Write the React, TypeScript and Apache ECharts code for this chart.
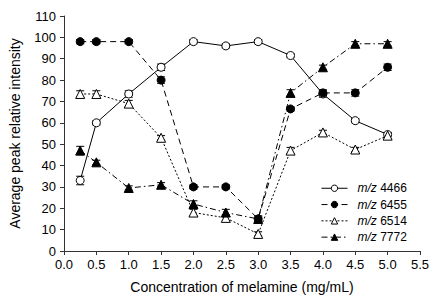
import React, { useEffect, useRef } from "react";
import * as echarts from "echarts";

const concentrations = [0.25, 0.5, 1.0, 1.5, 2.0, 2.5, 3.0, 3.5, 4.0, 4.5, 5.0];
const xTicks = ["0.0", "0.5", "1.0", "1.5", "2.0", "2.5", "3.0", "3.5", "4.0", "4.5", "5.0", "5.5"];

const mz4466 = [33, 60, 73.5, 86, 98, 96, 98, 91.5, 73.5, 61, 54.5];
const mz6455 = [98, 98, 98, 80, 30, 30, 15, 66.5, 74, 74, 86];
const mz6514 = [73.5, 73.5, 69, 53, 18, 15.5, 8, 47, 55.5, 47.5, 54];
const mz7772 = [47, 41.5, 29.5, 31, 22, 18, 15, 74, 86, 97, 97];

const err4466 = [2, 1, 1.5, 1.5, 1, 1, 1, 1, 1.5, 1, 1];
const err6455 = [1, 1, 1, 1.5, 1, 1, 1.5, 1, 1.5, 1.5, 1.5];
const err6514 = [1.5, 1.5, 1.5, 1, 1.5, 1.5, 1, 1.5, 1, 1, 1.5];
const err7772 = [2, 1, 1, 1, 1.5, 1.5, 1, 1.5, 1, 1, 1];

const names = ["m/z 4466", "m/z 6455", "m/z 6514", "m/z 7772"];

const FONT = "Liberation Sans, Arial, sans-serif";

export default function App() {
  const ref = useRef<HTMLDivElement>(null);
  useEffect(() => {
    if (!ref.current) return;
    const chart = echarts.init(ref.current, undefined, { renderer: "svg" });

    const defs = [
      { name: names[0], values: mz4466, errs: err4466, symbol: "circle", size: 8, fill: "#fff", dash: "solid" as any },
      { name: names[1], values: mz6455, errs: err6455, symbol: "circle", size: 8, fill: "#000", dash: [6, 4] },
      { name: names[2], values: mz6514, errs: err6514, symbol: "triangle", size: 9, fill: "#fff", dash: [2, 2] },
      { name: names[3], values: mz7772, errs: err7772, symbol: "triangle", size: 9, fill: "#000", dash: [6, 3, 1.5, 3] },
    ];

    const errSeries = defs.map((d) => ({
      type: "custom",
      silent: true,
      z: 1,
      data: concentrations.map((c, i) => [c, d.values[i] - d.errs[i], d.values[i] + d.errs[i]]),
      renderItem: (params: any, api: any) => {
        const x = api.value(0);
        const lo = api.coord([x, api.value(1)]);
        const hi = api.coord([x, api.value(2)]);
        const w = 4;
        const style = { stroke: "#000", lineWidth: 1 };
        return {
          type: "group",
          children: [
            { type: "line", shape: { x1: lo[0], y1: lo[1], x2: hi[0], y2: hi[1] }, style },
            { type: "line", shape: { x1: lo[0] - w, y1: lo[1], x2: lo[0] + w, y2: lo[1] }, style },
            { type: "line", shape: { x1: hi[0] - w, y1: hi[1], x2: hi[0] + w, y2: hi[1] }, style },
          ],
        };
      },
    }));

    const lineSeries = defs.map((d) => ({
      type: "line",
      name: d.name,
      z: 3,
      data: concentrations.map((c, i) => [c, d.values[i]]),
      symbol: d.symbol,
      symbolSize: d.size,
      showAllSymbol: true,
      lineStyle: { color: "#000", width: 1, type: d.dash },
      itemStyle: { color: d.fill, borderColor: "#000", borderWidth: 1 },
    }));

    chart.setOption({
      animation: false,
      textStyle: { fontFamily: FONT },
      grid: { left: 63, right: 21, top: 16, bottom: 57 },
      legend: {
        data: names,
        orient: "vertical",
        left: 316,
        top: 177,
        itemWidth: 26,
        itemHeight: 8,
        itemGap: 3.8,
        lineStyle: { width: 1 },
        itemStyle: { borderWidth: 1 },
        formatter: (n: string) => "{i|m/z}" + n.slice(3),
        textStyle: {
          fontFamily: FONT,
          fontSize: 12,
          color: "#000",
          lineHeight: 12.5,
          padding: [0, 0, 0, 5],
          rich: { i: { fontStyle: "italic", fontFamily: FONT, fontSize: 12, color: "#000" } },
        },
      },
      xAxis: {
        type: "value",
        min: 0,
        max: 5.5,
        interval: 0.5,
        name: "Concentration of melamine (mg/mL)",
        nameLocation: "middle",
        nameGap: 29,
        nameTextStyle: { fontFamily: FONT, fontSize: 14, color: "#000" },
        axisLine: { onZero: false, lineStyle: { color: "#333", width: 1 } },
        axisTick: { length: 4, lineStyle: { color: "#333" } },
        axisLabel: {
          fontFamily: FONT,
          fontSize: 13,
          color: "#000",
          margin: 7,
          formatter: (v: number) => xTicks[Math.round(v / 0.5)] ?? v.toFixed(1),
        },
        splitLine: { show: false },
      },
      yAxis: {
        type: "value",
        min: 0,
        max: 110,
        interval: 10,
        name: "Average peak relative intensity",
        nameLocation: "middle",
        nameGap: 42,
        nameTextStyle: { fontFamily: FONT, fontSize: 14, color: "#000" },
        axisLine: { show: true, lineStyle: { color: "#333", width: 1 } },
        axisTick: { show: true, length: 4, lineStyle: { color: "#333" } },
        axisLabel: { fontFamily: FONT, fontSize: 13, color: "#000", margin: 8 },
        splitLine: { show: false },
      },
      series: [...errSeries, ...lineSeries],
    });
    return () => chart.dispose();
  }, []);
  return <div ref={ref} style={{ width: 441, height: 308, position: "absolute", left: 0, top: 0 }} />;
}
